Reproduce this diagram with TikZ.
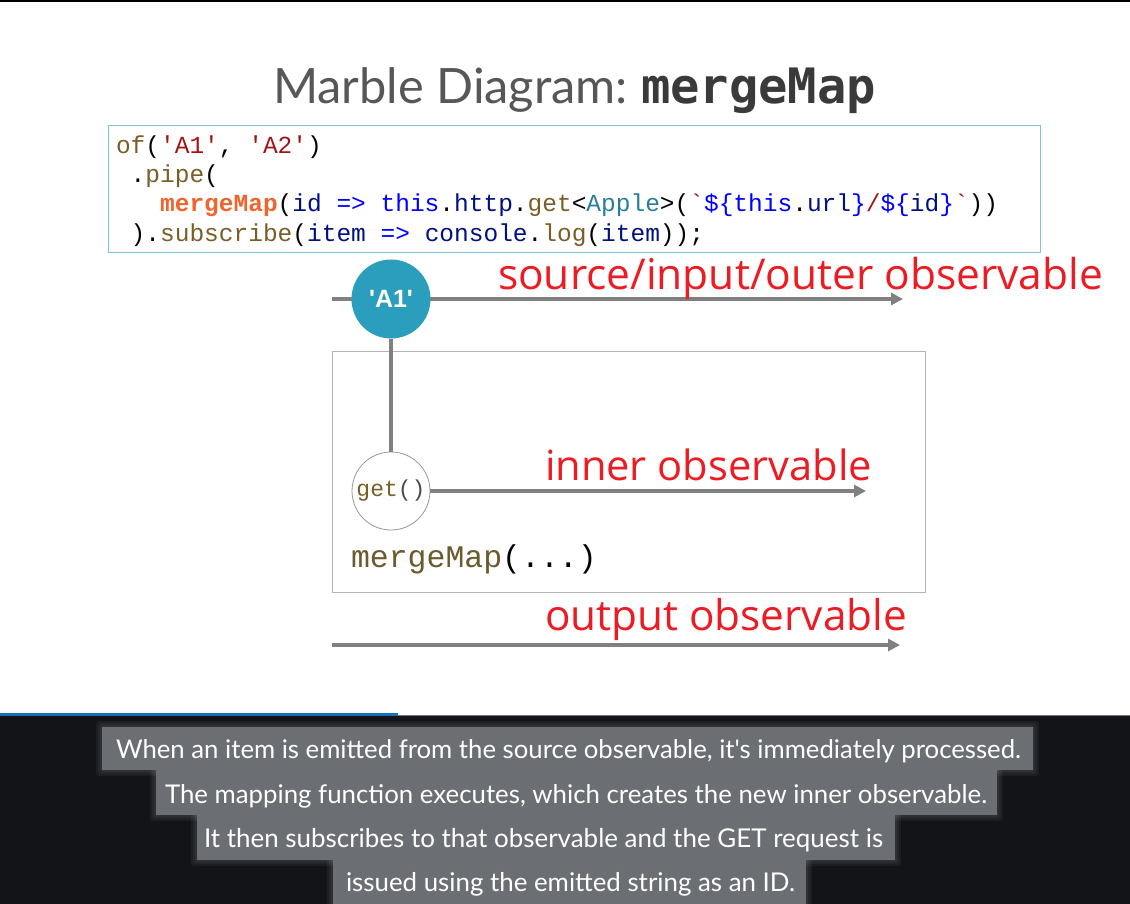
\documentclass[tikz,border=0pt]{standalone}
\usepackage{fontspec}
\usepackage{graphicx}
\usetikzlibrary{arrows.meta}
\newfontfamily\titlefont{Lato}
\newfontfamily\labelfont{Open Sans}
\newfontfamily\codefont{Liberation Mono}[Ligatures=TeXOff]
\newfontfamily\titlemono{DejaVu Sans Mono}[Ligatures=TeXOff]
\newfontfamily\capfont{Lato}
\newfontfamily\marblefont{Liberation Sans}[Ligatures=TeXOff]
\definecolor{cfn}{HTML}{795E26}
\definecolor{cstr}{HTML}{A31515}
\definecolor{cmm}{HTML}{F0642D}
\definecolor{cvar}{HTML}{001080}
\definecolor{ckw}{HTML}{0000FF}
\definecolor{ctype}{HTML}{267F99}
\definecolor{cred}{HTML}{EC1C24}
\definecolor{cline}{HTML}{808080}
\definecolor{cA}{HTML}{2B9EBE}
\definecolor{cbox}{HTML}{B4B4B4}
\definecolor{ccodebox}{HTML}{7CC5D9}
\definecolor{cbg}{HTML}{131417}
\definecolor{ccap}{HTML}{6B6E73}
\definecolor{cblue}{HTML}{1570B8}
\definecolor{ctitle}{HTML}{3A3A3A}
\definecolor{cmmtext}{HTML}{6B5A2E}
\newcommand\CFn[1]{\textcolor{cfn}{#1}}
\newcommand\CStr[1]{\textcolor{cstr}{#1}}
\newcommand\CVar[1]{\textcolor{cvar}{#1}}
\newcommand\CKw[1]{\textcolor{ckw}{#1}}
\newcommand\CTy[1]{\textcolor{ctype}{#1}}
\tikzset{
  txt/.style={inner sep=0pt, outer sep=0pt, anchor=base west},
  codeline/.style={txt, font=\codefont\fontsize{24.5}{26}\selectfont},
  redlabel/.style={txt},
  flow/.style={line width=3.5pt, draw=cline, -{Triangle[length=12pt,width=12pt]}},
  stem/.style={line width=3.5pt, draw=cline},
  capbox/.style={fill=ccap},
  glow/.style={fill=white, opacity=0.045, rounded corners=3pt}
}
\begin{document}
\begin{tikzpicture}[x=1pt,y=-1pt]
\useasboundingbox (0,0) rectangle (1130,904);
\fill[white] (0,0) rectangle (1130,904);
\fill[black] (0,0) rectangle (1130,2);
% title
\node[txt] (title) at (273,104) {\resizebox{355pt}{!}{\titlefont\color{ctitle!85}Marble Diagram:}};
\node[txt] (titlemm) at (641,104) {\titlemono\bfseries\fontsize{48.8}{50}\selectfont\color{ctitle}mergeMap};
% code box
\node[draw=ccodebox, line width=1pt, minimum width=932pt, minimum height=127pt, anchor=north west, inner sep=0pt] (codebox) at (108,125) {};
\node[codeline] (code1) at (116,154) {\CFn{of}(\CStr{'A1'}, \CStr{'A2'})};
\node[codeline] (code2) at (116,183) {\ .\CFn{pipe}(};
\node[codeline] (code3) at (116,212) {\ \ \ \textbf{\textcolor{cmm}{mergeMap}}(\CVar{id} \CKw{=>} \CKw{this}.\CVar{http}.\CFn{get}<\CTy{Apple}>(\CStr{`}\CKw{\$\{this}.\CVar{url}\CKw{\}}\CStr{/}\CKw{\$\{}\CVar{id}\CKw{\}}\CStr{`}))};
\node[codeline] (code4) at (116,241) {\ ).\CFn{subscribe}(\CVar{item} \CKw{=>} \CVar{console}.\CFn{log}(\CVar{item}));};
% mergeMap box
\node[draw=cbox, line width=1pt, minimum width=593pt, minimum height=241pt, anchor=north west, inner sep=0pt] (mmbox) at (332,351) {};
% source line
\coordinate (s0) at (332,299);
\coordinate (s1) at (903,299);
\draw[flow] (s0) -- (s1);
% inner
\coordinate (i1) at (866,491);
% output
\coordinate (o0) at (332,645);
\coordinate (o1) at (900,645);
\draw[flow] (o0) -- (o1);
% marbles
\node[circle, fill=cA, minimum size=79pt, inner sep=0pt] (A1) at (391,299) {\marblefont\bfseries\fontsize{25}{25}\selectfont\color{white}'A1'};
\node[circle, draw=black!40, line width=0.8pt, fill=white, minimum size=78pt, inner sep=0pt] (get) at (391,491) {\codefont\fontsize{23}{23}\selectfont\CFn{get}\textcolor{black!70}{()}};
\draw[stem] (A1) -- (get);
\draw[flow] (get) -- (i1);
\node[txt] (mmlabel) at (351,567) {\codefont\fontsize{31.5}{33}\selectfont\textcolor{cmmtext}{mergeMap}(...)};
% red labels
\node[redlabel] (lsrc) at (498,289) {\resizebox{605pt}{!}{\labelfont\color{cred}source/input/outer observable}};
\node[redlabel] (linner) at (545,480) {\resizebox{327pt}{!}{\labelfont\color{cred}inner observable}};
\node[redlabel] (lout) at (545,630) {\resizebox{362pt}{!}{\labelfont\color{cred}output observable}};
% bottom bar
\fill[cbg] (0,716) rectangle (1130,904);
\fill[black!55] (398,714.5) rectangle (1130,716);
\fill[cblue] (0,713) rectangle (398,716);
% caption glow
\foreach \e in {2,4,6}{
  \fill[glow] (102-\e,727-\e) rectangle (1033+\e,770+\e);
  \fill[glow] (156-\e,770-\e) rectangle (997+\e,815+\e);
  \fill[glow] (197-\e,815-\e) rectangle (895+\e,860+\e);
  \fill[glow] (333-\e,860-\e) rectangle (806+\e,904+\e);
}
\fill[capbox] (102,727) rectangle (1033,770);
\fill[capbox] (156,770) rectangle (997,815);
\fill[capbox] (197,815) rectangle (895,860);
\fill[capbox] (333,860) rectangle (806,904);
\node[txt, text=white] (cap1) at (116,758) {\resizebox{905pt}{!}{\capfont When an item is emitted from the source observable, it's immediately processed.}};
\node[txt, text=white] (cap2) at (165,803) {\resizebox{822pt}{!}{\capfont The mapping function executes, which creates the new inner observable.}};
\node[txt, text=white] (cap3) at (204,847) {\resizebox{679pt}{!}{\capfont It then subscribes to that observable and the GET request is}};
\node[txt, text=white] (cap4) at (346,891) {\resizebox{449pt}{!}{\capfont issued using the emitted string as an ID.}};
\end{tikzpicture}
\end{document}
